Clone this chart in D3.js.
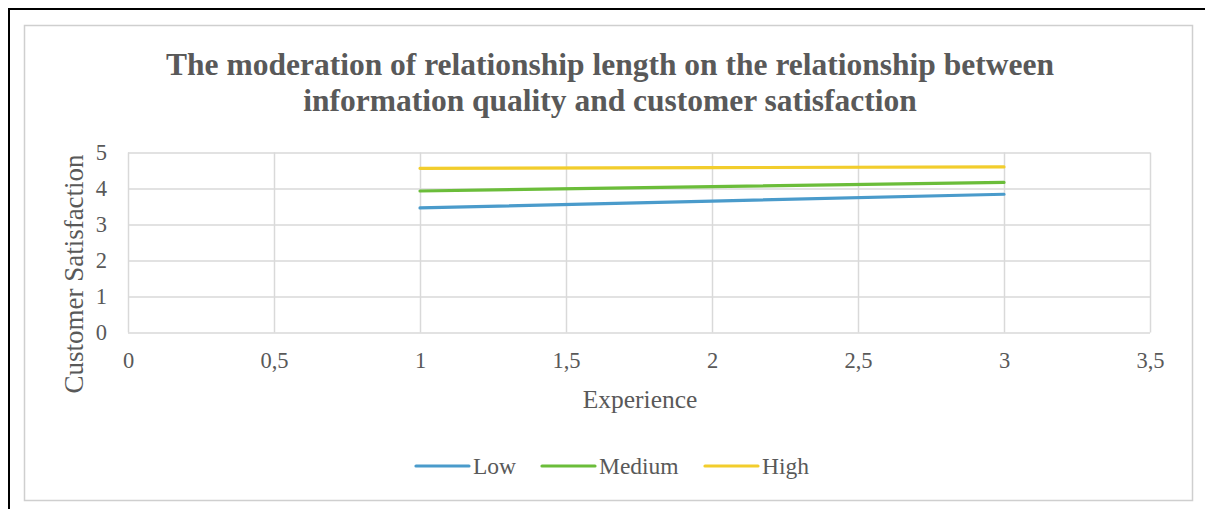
<!DOCTYPE html>
<html>
<head>
<meta charset="utf-8">
<script src="https://cdn.jsdelivr.net/npm/d3@7"></script>
<style>
  html, body { margin: 0; padding: 0; background: #fff; }
  svg { display: block; }
  text { font-family: "Liberation Serif", "Times New Roman", serif; fill: #595959; }
</style>
</head>
<body>
<script>
// Interaction plot: experience vs. customer satisfaction at three relationship-length levels
const titleLines = [
  "The moderation of relationship length on the relationship between",
  "information quality and customer satisfaction"
];
const experience = [1, 2, 3];
const lowValues = [3.46, 3.65, 3.84];
const mediumValues = [3.93, 4.05, 4.17];
const highValues = [4.56, 4.58, 4.60];
const seriesNames = ["Low", "Medium", "High"];
const seriesColors = ["#4A9BCB", "#6BBD3A", "#F2CD2C"];
const xTicks = [0, 0.5, 1, 1.5, 2, 2.5, 3, 3.5];
const yTicks = [0, 1, 2, 3, 4, 5];
const xTitle = "Experience";
const yTitle = "Customer Satisfaction";

const W = 1205, H = 509;
const svg = d3.select("body").append("svg").attr("width", W).attr("height", H);

// outer frame (top and left black rules)
svg.append("line").attr("x1", 9).attr("x2", W).attr("y1", 9).attr("y2", 9)
  .attr("stroke", "#000").attr("stroke-width", 2);
svg.append("line").attr("x1", 9).attr("x2", 9).attr("y1", 8).attr("y2", H)
  .attr("stroke", "#000").attr("stroke-width", 2);

// chart area border
svg.append("rect").attr("x", 24.5).attr("y", 25.5).attr("width", 1168).attr("height", 475)
  .attr("fill", "#fff").attr("stroke", "#cfcfcf").attr("stroke-width", 1.5);

// title
const title = svg.append("text").attr("text-anchor", "middle")
  .style("font-weight", "bold").style("font-size", "31.5px");
titleLines.forEach((t, i) => {
  title.append("tspan").attr("x", 610).attr("y", 75 + i * 36).text(t);
});

const x = d3.scaleLinear().domain([0, 3.5]).range([128, 1150]);
const y = d3.scaleLinear().domain([0, 5]).range([332.5, 152.5]);

const g = svg.append("g");

// gridlines
g.append("g").attr("transform", `translate(0,${y(0)})`)
  .call(d3.axisBottom(x).tickValues(xTicks).tickSize(-(y(0) - y(5))).tickFormat(""))
  .call(s => s.select(".domain").remove())
  .call(s => s.selectAll("line").attr("stroke", "#d9d9d9").attr("stroke-width", 1.5));
g.append("g").attr("transform", `translate(${x(0)},0)`)
  .call(d3.axisLeft(y).tickValues(yTicks).tickSize(-(x(3.5) - x(0))).tickFormat(""))
  .call(s => s.select(".domain").remove())
  .call(s => s.selectAll("line").attr("stroke", "#d9d9d9").attr("stroke-width", 1.5));

// tick labels
const fmt = d => String(d).replace(".", ",");
g.append("g").attr("transform", `translate(0,${y(0)})`)
  .call(d3.axisBottom(x).tickValues(xTicks).tickSize(0).tickPadding(20).tickFormat(fmt))
  .call(s => s.select(".domain").remove())
  .call(s => s.selectAll("text").style("font-size", "22.5px")
    .style("font-family", "'Liberation Serif', serif").attr("fill", "#595959"));
g.append("g").attr("transform", `translate(${x(0)},0)`)
  .call(d3.axisLeft(y).tickValues(yTicks).tickSize(0).tickPadding(21).tickFormat(d3.format("d")))
  .call(s => s.select(".domain").remove())
  .call(s => s.selectAll("text").style("font-size", "22.5px")
    .style("font-family", "'Liberation Serif', serif").attr("fill", "#595959"));

// axis titles
svg.append("text").attr("x", 640).attr("y", 408).attr("text-anchor", "middle")
  .style("font-size", "25.5px").text(xTitle);
svg.append("text").attr("transform", "translate(83,274) rotate(-90)").attr("text-anchor", "middle")
  .style("font-size", "27px").text(yTitle);

// series lines
const seriesValues = [lowValues, mediumValues, highValues];
const line = d3.line().x(d => x(d[0])).y(d => y(d[1]));
seriesValues.forEach((vals, i) => {
  svg.append("path")
    .attr("d", line(experience.map((e, j) => [e, vals[j]])))
    .attr("fill", "none").attr("stroke", seriesColors[i])
    .attr("stroke-width", 3.2).attr("stroke-linecap", "round");
});

// legend
const legendX = [416, 542, 705];
seriesNames.forEach((n, i) => {
  svg.append("line").attr("x1", legendX[i]).attr("x2", legendX[i] + 53)
    .attr("y1", 466).attr("y2", 466)
    .attr("stroke", seriesColors[i]).attr("stroke-width", 3.2).attr("stroke-linecap", "round");
  svg.append("text").attr("x", legendX[i] + 57).attr("y", 474)
    .style("font-size", "23.5px").text(n);
});
</script>
</body>
</html>
